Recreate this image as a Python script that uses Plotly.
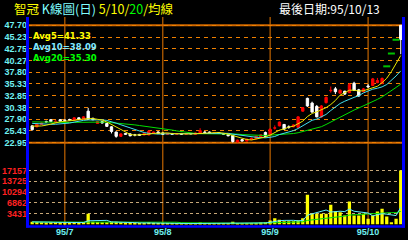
import plotly.graph_objects as go
import numpy as np

# ---------------- data ----------------
stock_name = "智冠"
last_date = "95/10/13"
month_labels = ["95/7", "95/8", "95/9", "95/10"]
days_per_month = [7, 21, 23, 21, 8]          # late Jun, Jul, Aug, Sep, early Oct

opens = [26.5, 26.3, 26.8, 27.4, 27.8, 27.2, 27.8,
         27.7, 27.8, 27.7, 28.2, 27.9, 29.6, 28.1, 27.0, 27.4, 27.0, 26.3, 25.2, 24.3, 24.9,
         24.8, 24.6, 24.7, 24.6, 24.6, 25.0, 25.2,
         25.0, 24.7, 24.9, 24.7, 24.9, 24.7, 24.9, 24.7, 24.9, 25.2, 25.2, 24.9, 25.1, 24.9,
         24.7, 24.5, 23.1, 23.6, 23.3, 23.6, 23.8, 24.1, 25.1,
         24.5, 26.0, 26.5, 26.8, 26.3, 26.3, 26.2, 29.6, 32.3, 31.3, 30.6, 28.4, 31.4, 33.9,
         34.3, 33.4, 33.8, 33.5, 35.5, 34.1, 33.7,
         34.9, 35.0, 35.6, 35.4, 39.05, 41.75, 44.65, 47.70]
highs = [26.6, 27.0, 27.2, 27.6, 27.9, 27.7, 27.9,
         27.9, 28.0, 28.3, 28.3, 28.5, 30.3, 28.2, 27.5, 27.5, 27.1, 26.4, 25.3, 24.9, 25.0,
         24.9, 24.8, 24.8, 25.0, 25.6, 25.3, 25.4,
         25.1, 25.0, 25.0, 24.9, 25.0, 25.0, 25.0, 25.1, 26.0, 25.4, 25.3, 25.2, 25.2, 25.0,
         24.8, 24.6, 23.6, 23.7, 23.8, 24.0, 24.4, 24.7, 25.3,
         26.0, 26.6, 27.4, 26.9, 26.6, 26.8, 28.5, 30.35, 32.45, 31.6, 30.9, 30.9, 32.7, 34.8,
         34.7, 34.2, 33.9, 35.5, 35.8, 34.3, 34.5,
         35.3, 36.6, 36.6, 36.7, 39.05, 41.75, 44.65, 47.70]
lows = [25.5, 26.2, 26.7, 27.1, 27.3, 27.1, 27.4,
        27.5, 27.6, 27.6, 27.8, 27.8, 27.8, 27.7, 26.9, 27.0, 26.3, 24.9, 24.0, 24.2, 24.6,
        24.3, 24.3, 24.4, 24.5, 24.5, 24.9, 24.8,
        24.6, 24.6, 24.6, 24.6, 24.6, 24.6, 24.7, 24.6, 24.8, 24.9, 24.8, 24.8, 24.8, 24.6,
        24.3, 22.95, 23.0, 23.2, 23.2, 23.5, 23.7, 24.0, 24.1,
        24.4, 25.7, 26.4, 25.7, 25.9, 26.2, 26.1, 29.5, 30.5, 29.3, 28.3, 28.2, 31.2, 33.5,
        33.2, 33.3, 33.0, 33.4, 33.9, 32.6, 33.6,
        34.5, 34.9, 35.5, 35.3, 39.05, 41.75, 44.65, 41.6]
closes = [25.7, 26.9, 27.1, 27.3, 27.4, 27.5, 27.5,
          27.6, 27.7, 28.2, 27.9, 28.4, 27.9, 27.8, 27.4, 27.1, 26.4, 25.3, 24.3, 24.8, 24.7,
          24.4, 24.55, 24.5, 24.9, 25.4, 25.2, 24.9,
          24.7, 24.9, 24.7, 24.85, 24.7, 24.9, 24.8, 25.0, 25.5, 25.1, 24.9, 25.1, 24.9, 24.7,
          24.4, 23.2, 23.5, 23.3, 23.7, 23.9, 24.3, 24.6, 24.2,
          25.8, 26.1, 27.3, 25.8, 26.2, 26.7, 28.4, 30.35, 30.7, 29.4, 28.4, 30.7, 32.5, 34.0,
          33.7, 34.0, 33.2, 35.2, 34.0, 32.8, 34.3,
          34.7, 36.4, 36.05, 36.5, 39.05, 41.75, 44.65, 44.7]
volumes = [900, 800, 700, 600, 700, 650, 600,
           550, 500, 700, 600, 750, 3400, 900, 800, 700, 750, 900, 850, 700, 500,
           500, 400, 450, 500, 700, 550, 450,
           400, 350, 300, 300, 350, 300, 280, 350, 600, 400, 350, 300, 300, 350,
           400, 900, 500, 400, 400, 350, 450, 600, 730,
           1270, 2000, 1500, 1000, 1060, 1060, 1270, 2000, 9430, 3400, 3400, 3400, 3400, 6250,
           4130, 3900, 2860, 7300, 2860, 2860, 3400,
           1800, 2860, 4130, 4980, 2540, 730, 1800, 17157]
prior_closes = [27.6, 27.8, 27.5, 27.9, 28.0, 27.7, 27.6, 27.8, 27.5, 27.4,
                27.6, 27.9, 27.7, 27.5, 27.3, 27.0, 26.8, 26.5, 26.2]
prior_volumes = [800, 900, 700, 650, 800, 750, 700, 900, 850, 700,
                 650, 700, 800, 900, 750, 700, 800, 850, 900]

price_ticks = [22.95, 25.43, 27.90, 30.38, 32.85, 35.33, 37.80, 40.27, 42.75, 45.23, 47.70]
vol_ticks = [3431, 6862, 10294, 13725, 17157]

# ---------------- derived ----------------
n = len(closes)
idx = np.arange(n)
month_starts = list(np.cumsum(days_per_month)[:-1])

all_c = np.array(prior_closes + closes)
all_v = np.array(prior_volumes + volumes)
def ma(arr, k):
    return [float(arr[len(prior_closes) + i - k + 1: len(prior_closes) + i + 1].mean()) for i in range(n)]
ma5, ma10, ma20 = ma(all_c, 5), ma(all_c, 10), ma(all_c, 20)
vma5, vma20 = ma(all_v, 5), ma(all_v, 20)

o, h, l, c = map(np.array, (opens, highs, lows, closes))
flat = (o == c) & (h == l)
up = (c > o) & ~flat
down = (c < o) & ~flat

# ---------------- pixel layout ----------------
W, H = 408, 240
PX0, STEP = 32.2, 4.665            # pixel of first day, pixels per day
XL, XR = 28, 404
P_TOP_PX, P_BOT_PX = 25.3, 142.7   # pixels of top/bottom price ticks
P_DOM = (17, 152)
V_ZERO_PX, V_TOP_PX = 224.5, 170.5  # pixel of 0 and of top volume tick
V_DOM = (158, 224.5)

def fy(px):
    return 1 - px / H

x_range = [(XL - PX0) / STEP, (XR - PX0) / STEP]
p_scale = (P_BOT_PX - P_TOP_PX) / (price_ticks[-1] - price_ticks[0])
p_range = [price_ticks[0] - (P_DOM[1] - P_BOT_PX) / p_scale,
           price_ticks[-1] + (P_TOP_PX - P_DOM[0]) / p_scale]
v_scale = (V_ZERO_PX - V_TOP_PX) / vol_ticks[-1]
v_range = [0, (V_ZERO_PX - V_DOM[0]) / v_scale]

RED, WHITE, GREEN = "#ff0000", "#ffffff", "#00c000"

fig = go.Figure()

# wicks
def wick_xy(mask):
    xs, ys = [], []
    for i in idx[mask]:
        xs += [i, i, None]
        ys += [l[i], h[i], None]
    return xs, ys
for mask, col in ((up, RED), (down, WHITE)):
    xs, ys = wick_xy(mask)
    fig.add_trace(go.Scatter(x=xs, y=ys, mode="lines", line=dict(color=col, width=1),
                             xaxis="x", yaxis="y", showlegend=False, hoverinfo="skip"))
# bodies
body = ~flat
body_cols = [RED if up[i] else WHITE for i in idx[body]]
fig.add_trace(go.Bar(x=idx[body], y=np.abs(c - o)[body], base=np.minimum(o, c)[body],
                     width=0.5, marker=dict(color=body_cols, line=dict(color=body_cols, width=1)),
                     xaxis="x", yaxis="y", showlegend=False, hoverinfo="skip"))
# one-price (limit) days drawn as short green dashes
fig.add_trace(go.Scatter(
    x=idx[flat], y=c[flat], mode="markers",
    marker=dict(symbol="line-ew", size=5, line=dict(color=GREEN, width=2)),
    xaxis="x", yaxis="y", showlegend=False, hoverinfo="skip"))

for arr, col in ((ma20, "#00e000"), (ma10, "#40e0f0"), (ma5, "#e8e800")):
    fig.add_trace(go.Scatter(x=idx, y=arr, mode="lines", line=dict(color=col, width=1),
                             xaxis="x", yaxis="y", showlegend=False, hoverinfo="skip"))

fig.add_trace(go.Bar(x=idx, y=volumes, marker=dict(color="#ffff00", line=dict(width=0)),
                     width=0.7, xaxis="x", yaxis="y2", showlegend=False, hoverinfo="skip"))
for arr, col in ((vma20, "#00e000"), (vma5, "#60f0ff")):
    fig.add_trace(go.Scatter(x=idx, y=arr, mode="lines", line=dict(color=col, width=1),
                             xaxis="x", yaxis="y2", showlegend=False, hoverinfo="skip"))

shapes = []
for m in month_starts:
    shapes.append(dict(type="line", xref="x", yref="paper", x0=m, x1=m,
                       y0=fy(17), y1=fy(226), line=dict(color="#e87800", width=1), layer="below"))
for v in (price_ticks[0], price_ticks[-1]):
    shapes.append(dict(type="line", xref="paper", yref="y", x0=XL / W, x1=XR / W, y0=v, y1=v,
                       line=dict(color="#d06800", width=2), layer="below"))
blue = "#0000ff"
shapes.append(dict(type="line", xref="paper", yref="paper", x0=27.5 / W, x1=27.5 / W,
                   y0=fy(17), y1=fy(227.5), line=dict(color=blue, width=3)))
shapes.append(dict(type="line", xref="paper", yref="paper", x0=403.5 / W, x1=403.5 / W,
                   y0=fy(17), y1=fy(227.5), line=dict(color=blue, width=3)))
shapes.append(dict(type="line", xref="paper", yref="paper", x0=26 / W, x1=405 / W,
                   y0=fy(226.5), y1=fy(226.5), line=dict(color=blue, width=2.5)))

cjk = "Noto Sans CJK TC"
avg_text = "<br>".join(
    f'<span style="color:{col}">{lab}={arr[-1]:.2f}</span>'
    for lab, arr, col in (("Avg5", ma5, "#ffff00"), ("Avg10", ma10, "#80e8ff"),
                          ("Avg20", ma20, "#00ff00")))
annotations = [
    dict(xref="paper", yref="paper", x=12 / W, y=fy(9), xanchor="left", yanchor="middle",
         showarrow=False, font=dict(family=cjk, size=12.5),
         text=('<span style="color:#ffff00">' + stock_name + '</span> '
               '<span style="color:#80ffff">K線圖(日)</span> '
               '<span style="color:#ffff00">5/10/</span>'
               '<span style="color:#00ff00">20</span>'
               '<span style="color:#ffff00">/均線</span>')),
    dict(xref="paper", yref="paper", x=277 / W, y=fy(9), xanchor="left", yanchor="middle",
         showarrow=False, font=dict(family=cjk, size=12, color="#ffffff"),
         text="最後日期:" + last_date),
    dict(xref="paper", yref="paper", x=31 / W, y=fy(29), xanchor="left", yanchor="top",
         align="left", showarrow=False,
         font=dict(family="DejaVu Sans", size=8.5, weight="bold"), text=avg_text),
]

tickfont = dict(family="Liberation Sans", size=9, weight="bold")
fig.update_layout(
    width=W, height=H, margin=dict(l=0, r=0, t=0, b=0),
    paper_bgcolor="#000000", plot_bgcolor="#000000",
    showlegend=False, barmode="overlay",
    xaxis=dict(domain=[XL / W, XR / W], range=x_range, anchor="y2",
               tickvals=month_starts, ticktext=month_labels, ticks="", showgrid=False,
               zeroline=False, showline=False,
               tickfont=dict(tickfont, color="#70f0f0")),
    yaxis=dict(domain=[fy(P_DOM[1]), fy(P_DOM[0])], range=p_range, anchor="x",
               tickvals=price_ticks, ticktext=[f"{v:.2f}" for v in price_ticks],
               showgrid=True, gridcolor="#f08000", gridwidth=1, griddash="4px,4px",
               zeroline=False, showline=False, ticks="",
               tickfont=dict(tickfont, color="#70f0f0")),
    yaxis2=dict(domain=[fy(V_DOM[1]), fy(V_DOM[0])], range=v_range, anchor="x",
                tickvals=vol_ticks, ticktext=[str(v) for v in vol_ticks],
                showgrid=True, gridcolor="#c8a878", gridwidth=1, griddash="3px,3px",
                zeroline=False, showline=False, ticks="",
                tickfont=dict(tickfont, color="#ff2020")),
    shapes=shapes, annotations=annotations,
)

fig.write_html("out.html")
